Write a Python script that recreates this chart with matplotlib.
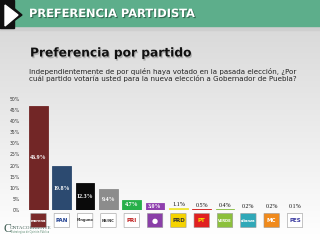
import matplotlib
matplotlib.use("Agg")
import matplotlib.pyplot as plt
import numpy as np
from matplotlib.patches import FancyBboxPatch, Rectangle, Polygon
import matplotlib.patheffects as pe
import matplotlib.transforms as mtransforms

parties = ["morena", "PAN", "Ninguno", "NS/NC", "PRI", "Independiente",
           "PRD", "PT", "VERDE", "Nueva Alianza", "MC", "PES"]
values = [46.9, 19.8, 12.3, 9.4, 4.7, 3.0, 1.1, 0.5, 0.4, 0.2, 0.2, 0.1]
bar_colors = ["#722626", "#2c4a70", "#0a0a0a", "#8c8c8c", "#27b04a", "#8f3fae",
              "#f0e63a", "#d4201e", "#8cbf45", "#3aa9bd", "#ee8a2a", "#8ea6cf"]
logo_text = ["morena", "PAN", "Ninguno", "NS/NC", "PRI", "",
             "PRD", "PT", "VERDE", "alianza", "MC", "PES"]
logo_face = ["#7a2a2a", "#ffffff", "#ffffff", "#ffffff", "#ffffff", "#8a3fa8",
             "#f5d300", "#e02020", "#8cc03c", "#2fa8b8", "#f08a1c", "#ffffff"]
logo_tc = ["white", "#1f3f90", "#333333", "#333333", "#c02020", "white",
           "#333333", "#f5e000", "white", "white", "white", "#3a3aa0"]
yticks = [0, 5, 10, 15, 20, 25, 30, 35, 40, 45, 50]

W, H = 320, 240
fig = plt.figure(figsize=(3.2, 2.4), dpi=100)

# background gradient
bg = fig.add_axes([0, 0, 1, 1])
bg.set_xlim(0, W); bg.set_ylim(H, 0); bg.axis("off")
grad = np.linspace(0, 1, 256).reshape(-1, 1)
cmap = matplotlib.colors.LinearSegmentedColormap.from_list("g", ["#dadada", "#ffffff"])
bg.imshow(grad, extent=[0, W, H, 30], aspect="auto", cmap=cmap, zorder=0)
bg.add_patch(Rectangle((0, 25), W, 5, color="#cfcfcf", zorder=1))
bg.add_patch(Rectangle((0, 0), W, 26, color="#5dae8b", zorder=2))
bg.add_patch(Polygon([[0, 0], [14, 0], [14, 28], [0, 28]], color="#111111", zorder=3))
bg.add_patch(Polygon([[0, 0], [4, 0], [22, 15], [4, 28], [0, 28]], color="#111111", zorder=3))
bg.add_patch(Polygon([[5, 5], [18, 15], [5, 26]], color="white", zorder=4))
bg.text(29, 14, "PREFERENCIA PARTIDISTA", color="white", fontsize=8.2,
        fontweight="bold", va="center", ha="left", zorder=5,
        path_effects=[pe.withSimplePatchShadow(offset=(0.8, -0.8), shadow_rgbFace="#2a5a45", alpha=0.8)])
bg.text(30, 53, "Preferencia por partido", color="#111111", fontsize=8.8,
        fontweight="bold", va="center", ha="left", zorder=5,
        path_effects=[pe.withSimplePatchShadow(offset=(0.8, -1.2), shadow_rgbFace="#888888", alpha=0.5)])
bg.text(29, 75, "Independientemente de por quién haya votado en la pasada elección, ¿Por\n"
        "cuál partido votaría usted para la nueva elección a Gobernador de Puebla?",
        color="#222222", fontsize=5.1, va="center", ha="left", linespacing=1.0, zorder=5)
bg.text(3, 229, "C", color="#3c5a50", fontsize=8.5, family="Liberation Serif", va="center", zorder=5)
bg.text(10, 228, "ONTACORRIENTE", color="#3c5a50", fontsize=3.6, family="Liberation Serif",
        va="center", zorder=5)
bg.text(11, 232.5, "Estrategias de Opinión Pública", color="#5a8a70", fontsize=1.8,
        va="center", zorder=5)

# chart axes
left = 26.85 / W
right = 306.65 / W
ax = fig.add_axes([left, 30 / H, right - left, (141 - 30) / H])
ax.patch.set_alpha(0)
x = np.arange(len(values))
ax.bar(x, values, width=0.8, color=bar_colors, edgecolor=bar_colors, linewidth=0.6, zorder=3)
ax.set_xlim(-0.5, len(values) - 0.5)
ax.set_ylim(0, 50)
ax.set_yticks(yticks)
ax.set_yticklabels([f"{t}%" for t in yticks], fontsize=3.3, color="#333333")
ax.tick_params(axis="y", length=0, pad=5)
ax.set_xticks([])
for s in ax.spines.values():
    s.set_visible(False)

for i, v in enumerate(values):
    if v >= 3:
        ax.text(i, v / 2, f"{v:.1f}%", color="white", ha="center", va="center",
                fontsize=4.3, fontweight="bold", family="Liberation Serif", zorder=4)
    else:
        ax.text(i, v + 0.4, f"{v:.1f}%", color="#111111", ha="center", va="bottom",
                fontsize=4.3, family="Liberation Serif", zorder=4)

# logos below bars
trans = mtransforms.blended_transform_factory(ax.transData, bg.transData)
for i in range(len(values)):
    box = FancyBboxPatch((i - 0.33, 213.5), 0.66, 14, boxstyle="round,pad=0,rounding_size=0.08",
                         transform=trans, facecolor=logo_face[i], edgecolor="#999999",
                         linewidth=0.4, clip_on=False, zorder=5, mutation_aspect=1)
    ax.add_artist(box)
    if logo_text[i]:
        ax.text(i, 220.5, logo_text[i], transform=trans, ha="center", va="center",
                fontsize=2.6 if len(logo_text[i]) > 3 else 4, color=logo_tc[i],
                fontweight="bold", clip_on=False, zorder=6)
    else:
        ax.text(i, 220.5, "\u25cf", transform=trans, ha="center", va="center",
                fontsize=5, color="white", clip_on=False, zorder=6)

fig.savefig("out.png", dpi=100)
